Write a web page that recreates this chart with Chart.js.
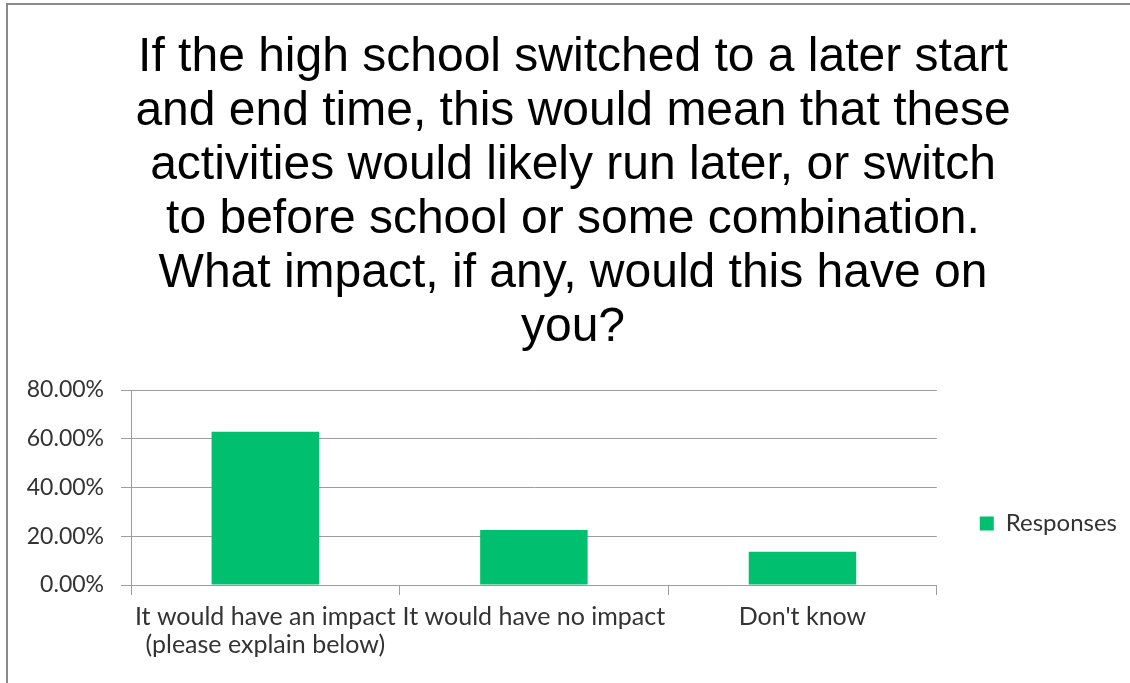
<!DOCTYPE html>
<html>
<head>
<meta charset="utf-8">
<script src="https://cdn.jsdelivr.net/npm/chart.js"></script>
<style>
  body{margin:0;background:#fff;overflow:hidden;}
</style>
</head>
<body>
<canvas id="myChart" width="1130" height="683"></canvas>
<script>
// survey question
let titleLines=['If the high school switched to a later start','and end time, this would mean that these','activities would likely run later, or switch','to before school or some combination.','What impact, if any, would this have on','you?'];
let categories=[['It would have an impact','(please explain below)'],'It would have no impact',"Don't know"];
let responses=[62.9,22.6,13.6];
let yTicks=[0,20,40,60,80];

const green='#00BF6F';
const gridCol='#9c9c9c';
const legPad=62;

// push legend to where the original sits
const legendPos={
  id:'legendPos',
  afterLayout(chart){
    const l=chart.legend;
    const dx=chart.chartArea.right+43-l.left-legPad;
    l.left+=dx;l.right+=dx;
    l.top+=36;l.bottom+=36;
  }
};
// outer frame, top and left only
const frame={
  id:'frame',
  beforeDraw(chart){
    const c=chart.ctx;
    c.save();
    c.strokeStyle='#8a8a8a';c.lineWidth=2;
    c.beginPath();c.moveTo(7,683);c.lineTo(7,4);c.lineTo(1130,4);c.stroke();
    c.restore();
  }
};

const ctx=document.getElementById('myChart').getContext('2d');
let chart=new Chart(ctx,{
  type:'bar',
  data:{
    labels:categories,
    datasets:[{
      label:'Responses',
      data:responses,
      backgroundColor:green,
      borderWidth:0,
      categoryPercentage:1,
      barPercentage:0.4
    }]
  },
  options:{
    responsive:false,
    animation:false,
    layout:{padding:{left:0,right:-16,top:0,bottom:0}},
    plugins:{
      title:{
        display:true,
        text:titleLines,
        color:'#000',
        font:{family:'Liberation Sans',size:48,weight:'normal',lineHeight:1.125},
        padding:{top:31,bottom:35}
      },
      legend:{
        position:'right',
        fullSize:false,
        labels:{
          boxWidth:14,boxHeight:14,padding:legPad,
          color:'#333',
          font:{family:'Lato',size:24}
        }
      },
      tooltip:{enabled:false}
    },
    scales:{
      x:{
        offset:true,
        grid:{offset:true,drawOnChartArea:false,drawTicks:true,tickLength:10,color:gridCol},
        border:{display:true,color:gridCol},
        ticks:{color:'#333',font:{family:'Lato',size:25,lineHeight:1.12},padding:8,maxRotation:0,autoSkip:false},
        afterFit:s=>{s.height=98;}
      },
      y:{
        min:0,max:80,
        afterBuildTicks:s=>{s.ticks=yTicks.map(v=>({value:v}));},
        grid:{color:gridCol,tickLength:10},
        border:{display:true,color:gridCol},
        ticks:{color:'#333',font:{family:'Lato',size:23},padding:17,callback:v=>v.toFixed(2)+'%'},
        afterFit:s=>{s.width=131;}
      }
    }
  },
  plugins:[legendPos,frame]
});
</script>
</body>
</html>
